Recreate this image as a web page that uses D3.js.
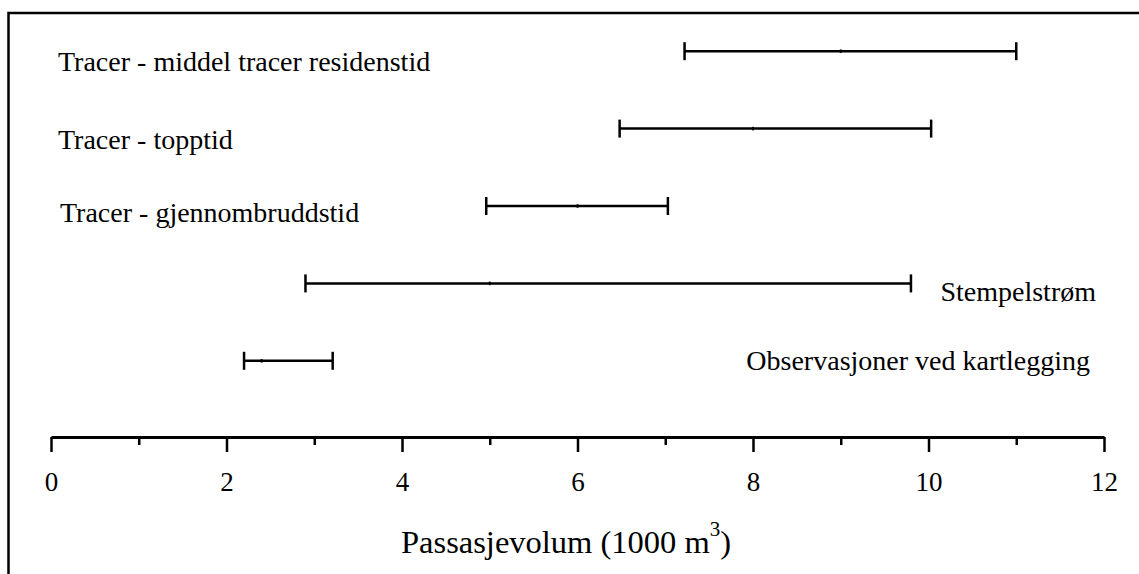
<!DOCTYPE html>
<html>
<head>
<meta charset="utf-8">
<script src="https://cdn.jsdelivr.net/npm/d3@7"></script>
<style>
  html, body { margin: 0; padding: 0; background: #fff; }
  svg { display: block; }
  text { font-family: "Liberation Serif", "Times New Roman", serif; fill: #000; }
</style>
</head>
<body>
<svg id="chart" width="1139" height="574"></svg>
<script>
// Ranges of passage volume (1000 m3) estimated by each method
const categories = [
  "Tracer - middel tracer residenstid",
  "Tracer - topptid",
  "Tracer - gjennombruddstid",
  "Stempelstrøm",
  "Observasjoner ved kartlegging"
];
const lowValues  = [7.22, 6.48, 4.96, 2.90, 2.20];
const highValues = [11.0, 10.03, 7.03, 9.80, 3.21];
const midValues  = [9.0, 8.0, 6.0, 5.0, 2.4];
const majorTicks = [0, 2, 4, 6, 8, 10, 12];
const minorTicks = [1, 3, 5, 7, 9, 11];

// Label placement: left-side labels start at a fixed x, right-side ones end near the frame
const labelLayout = [
  { anchor: "start", x: 58,   dy: 20 },
  { anchor: "start", x: 58,   dy: 20 },
  { anchor: "start", x: 60,   dy: 16 },
  { anchor: "end",   x: 1096, dy: 18 },
  { anchor: "end",   x: 1090, dy: 9 }
];

const svg = d3.select("#chart");

// Frame: left and top edges
svg.append("path")
  .attr("d", "M8.5,574 V13 H1139")
  .attr("fill", "none")
  .attr("stroke", "#000")
  .attr("stroke-width", 2.5);

const x = d3.scaleLinear().domain([0, 12]).range([51, 1104]);
const y = d3.scaleBand().domain(categories).range([12.5, 399.5]).padding(0);
const yc = d => y(d) + y.bandwidth() / 2;

const axisY = 437;
const axisG = svg.append("g").attr("transform", `translate(0,${axisY})`);
axisG.call(d3.axisBottom(x).tickValues(majorTicks).tickSize(15).tickSizeOuter(0).tickFormat(d3.format("d")));
axisG.select(".domain").attr("stroke", "#000").attr("stroke-width", 3);
axisG.selectAll(".tick line").attr("stroke", "#000").attr("stroke-width", 2.5);
axisG.selectAll(".tick text")
  .attr("y", 54).attr("dy", 0)
  .style("font-family", "'Liberation Serif', 'Times New Roman', serif")
  .style("font-size", "27px");

const minorG = svg.append("g").attr("transform", `translate(0,${axisY})`);
minorG.call(d3.axisBottom(x).tickValues(minorTicks).tickSize(8).tickSizeOuter(0).tickFormat(""));
minorG.select(".domain").remove();
minorG.selectAll(".tick line").attr("stroke", "#000").attr("stroke-width", 2.5);

// Axis title with superscript
const title = svg.append("text")
  .attr("x", 401).attr("y", 553)
  .style("font-size", "32.5px");
title.append("tspan").text("Passasjevolum (1000 m");
title.append("tspan").attr("dy", -17).style("font-size", "21px").text("3");
title.append("tspan").attr("dy", 17).text(")");

// Range bars
const rows = categories.map((c, i) => ({
  name: c, lo: lowValues[i], hi: highValues[i], mid: midValues[i], layout: labelLayout[i]
}));

const bars = svg.append("g").selectAll("g").data(rows).join("g");
bars.append("line")
  .attr("x1", d => x(d.lo)).attr("x2", d => x(d.hi))
  .attr("y1", d => yc(d.name)).attr("y2", d => yc(d.name))
  .attr("stroke", "#000").attr("stroke-width", 2.5);
bars.append("line")
  .attr("x1", d => x(d.lo)).attr("x2", d => x(d.lo))
  .attr("y1", d => yc(d.name) - 9).attr("y2", d => yc(d.name) + 9)
  .attr("stroke", "#000").attr("stroke-width", 2.5);
bars.append("line")
  .attr("x1", d => x(d.hi)).attr("x2", d => x(d.hi))
  .attr("y1", d => yc(d.name) - 9).attr("y2", d => yc(d.name) + 9)
  .attr("stroke", "#000").attr("stroke-width", 2.5);
bars.append("rect")
  .attr("x", d => x(d.mid) - 1).attr("y", d => yc(d.name) - 1.75)
  .attr("width", 2).attr("height", 3.5)
  .attr("fill", "#000");

// Category labels
bars.append("text")
  .attr("x", d => d.layout.x)
  .attr("y", d => yc(d.name) + d.layout.dy)
  .attr("text-anchor", d => d.layout.anchor)
  .style("font-size", "28px")
  .text(d => d.name);
</script>
</body>
</html>
